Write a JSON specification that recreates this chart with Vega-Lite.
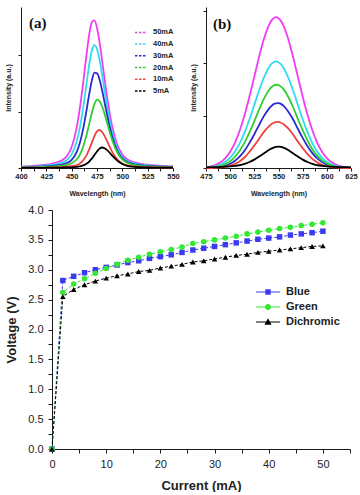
{
  "$schema": "https://vega.github.io/schema/vega-lite/v6.json",
  "background": "white",
  "padding": {"left": 4, "top": 7, "right": 0, "bottom": 0},
  "config": {
    "view": {"stroke": null},
    "axis": {"grid": false, "domainColor": "#1a1a1a", "tickColor": "#1a1a1a", "domainWidth": 1, "tickWidth": 1, "labelColor": "#222222", "titleColor": "#222222", "labelFlush": false, "labelOverlap": false}
  },
  "datasets": {
    "specA": [
      {"wl": 400, "50mA": 0.10, "40mA": 0.08, "30mA": 0.05, "20mA": 0.04, "10mA": 0.02, "5mA": 0.01},
      {"wl": 405, "50mA": 0.12, "40mA": 0.09, "30mA": 0.06, "20mA": 0.04, "10mA": 0.02, "5mA": 0.01},
      {"wl": 410, "50mA": 0.14, "40mA": 0.10, "30mA": 0.07, "20mA": 0.05, "10mA": 0.02, "5mA": 0.01},
      {"wl": 415, "50mA": 0.17, "40mA": 0.12, "30mA": 0.08, "20mA": 0.05, "10mA": 0.02, "5mA": 0.01},
      {"wl": 420, "50mA": 0.20, "40mA": 0.15, "30mA": 0.10, "20mA": 0.07, "10mA": 0.03, "5mA": 0.01},
      {"wl": 425, "50mA": 0.24, "40mA": 0.18, "30mA": 0.12, "20mA": 0.08, "10mA": 0.03, "5mA": 0.02},
      {"wl": 430, "50mA": 0.30, "40mA": 0.22, "30mA": 0.15, "20mA": 0.10, "10mA": 0.04, "5mA": 0.02},
      {"wl": 435, "50mA": 0.39, "40mA": 0.28, "30mA": 0.19, "20mA": 0.12, "10mA": 0.05, "5mA": 0.02},
      {"wl": 440, "50mA": 0.53, "40mA": 0.37, "30mA": 0.24, "20mA": 0.16, "10mA": 0.07, "5mA": 0.03},
      {"wl": 445, "50mA": 0.82, "40mA": 0.55, "30mA": 0.35, "20mA": 0.21, "10mA": 0.09, "5mA": 0.04},
      {"wl": 450, "50mA": 1.49, "40mA": 0.96, "30mA": 0.58, "20mA": 0.33, "10mA": 0.13, "5mA": 0.05},
      {"wl": 455, "50mA": 2.88, "40mA": 1.89, "30mA": 1.14, "20mA": 0.62, "10mA": 0.21, "5mA": 0.08},
      {"wl": 457.5, "50mA": 3.96, "40mA": 2.65, "30mA": 1.64, "20mA": 0.87, "10mA": 0.30, "5mA": 0.11},
      {"wl": 460, "50mA": 5.25, "40mA": 3.65, "30mA": 2.33, "20mA": 1.25, "10mA": 0.43, "5mA": 0.15},
      {"wl": 462.5, "50mA": 6.72, "40mA": 4.85, "30mA": 3.20, "20mA": 1.77, "10mA": 0.65, "5mA": 0.22},
      {"wl": 465, "50mA": 8.23, "40mA": 6.16, "30mA": 4.23, "20mA": 2.43, "10mA": 0.95, "5mA": 0.32},
      {"wl": 467.5, "50mA": 9.53, "40mA": 7.40, "30mA": 5.30, "20mA": 3.18, "10mA": 1.35, "5mA": 0.47},
      {"wl": 470, "50mA": 10.35, "40mA": 8.33, "30mA": 6.22, "20mA": 3.93, "10mA": 1.81, "5mA": 0.68},
      {"wl": 472.5, "50mA": 10.45, "40mA": 8.70, "30mA": 6.75, "20mA": 4.54, "10mA": 2.27, "5mA": 0.92},
      {"wl": 475, "50mA": 9.91, "40mA": 8.42, "30mA": 6.71, "20mA": 4.84, "10mA": 2.60, "5mA": 1.17},
      {"wl": 477.5, "50mA": 8.91, "40mA": 7.67, "30mA": 6.27, "20mA": 4.74, "10mA": 2.69, "5mA": 1.37},
      {"wl": 480, "50mA": 7.63, "40mA": 6.63, "30mA": 5.52, "20mA": 4.37, "10mA": 2.55, "5mA": 1.45},
      {"wl": 482.5, "50mA": 6.28, "40mA": 5.47, "30mA": 4.64, "20mA": 3.82, "10mA": 2.26, "5mA": 1.40},
      {"wl": 485, "50mA": 5.01, "40mA": 4.35, "30mA": 3.74, "20mA": 3.18, "10mA": 1.89, "5mA": 1.27},
      {"wl": 487.5, "50mA": 3.89, "40mA": 3.35, "30mA": 2.92, "20mA": 2.55, "10mA": 1.50, "5mA": 1.08},
      {"wl": 490, "50mA": 2.94, "40mA": 2.51, "30mA": 2.22, "20mA": 1.97, "10mA": 1.14, "5mA": 0.88},
      {"wl": 495, "50mA": 1.64, "40mA": 1.37, "30mA": 1.22, "20mA": 1.10, "10mA": 0.61, "5mA": 0.52},
      {"wl": 500, "50mA": 0.95, "40mA": 0.77, "30mA": 0.68, "20mA": 0.61, "10mA": 0.32, "5mA": 0.28},
      {"wl": 505, "50mA": 0.61, "40mA": 0.50, "30mA": 0.42, "20mA": 0.36, "10mA": 0.18, "5mA": 0.15},
      {"wl": 510, "50mA": 0.44, "40mA": 0.36, "30mA": 0.30, "20mA": 0.24, "10mA": 0.12, "5mA": 0.09},
      {"wl": 515, "50mA": 0.35, "40mA": 0.28, "30mA": 0.23, "20mA": 0.18, "10mA": 0.09, "5mA": 0.06},
      {"wl": 520, "50mA": 0.28, "40mA": 0.23, "30mA": 0.18, "20mA": 0.14, "10mA": 0.07, "5mA": 0.05},
      {"wl": 525, "50mA": 0.23, "40mA": 0.19, "30mA": 0.15, "20mA": 0.12, "10mA": 0.06, "5mA": 0.04},
      {"wl": 530, "50mA": 0.20, "40mA": 0.16, "30mA": 0.13, "20mA": 0.10, "10mA": 0.05, "5mA": 0.03},
      {"wl": 535, "50mA": 0.17, "40mA": 0.13, "30mA": 0.11, "20mA": 0.08, "10mA": 0.04, "5mA": 0.03},
      {"wl": 540, "50mA": 0.15, "40mA": 0.11, "30mA": 0.09, "20mA": 0.07, "10mA": 0.03, "5mA": 0.02},
      {"wl": 545, "50mA": 0.13, "40mA": 0.10, "30mA": 0.08, "20mA": 0.06, "10mA": 0.03, "5mA": 0.02},
      {"wl": 550, "50mA": 0.11, "40mA": 0.09, "30mA": 0.07, "20mA": 0.05, "10mA": 0.03, "5mA": 0.02}
    ],
    "specB": [
      {"wl": 475, "50mA": 0.03, "40mA": 0.02, "30mA": 0.01, "20mA": 0.01, "10mA": 0.00, "5mA": 0.02},
      {"wl": 480, "50mA": 0.06, "40mA": 0.04, "30mA": 0.01, "20mA": 0.02, "10mA": 0.00, "5mA": 0.03},
      {"wl": 485, "50mA": 0.12, "40mA": 0.07, "30mA": 0.02, "20mA": 0.04, "10mA": 0.01, "5mA": 0.03},
      {"wl": 490, "50mA": 0.22, "40mA": 0.13, "30mA": 0.05, "20mA": 0.08, "10mA": 0.02, "5mA": 0.04},
      {"wl": 495, "50mA": 0.38, "40mA": 0.24, "30mA": 0.09, "20mA": 0.15, "10mA": 0.05, "5mA": 0.05},
      {"wl": 500, "50mA": 0.62, "40mA": 0.40, "30mA": 0.16, "20mA": 0.26, "10mA": 0.09, "5mA": 0.06},
      {"wl": 505, "50mA": 0.97, "40mA": 0.63, "30mA": 0.28, "20mA": 0.43, "10mA": 0.16, "5mA": 0.08},
      {"wl": 510, "50mA": 1.44, "40mA": 0.95, "30mA": 0.44, "20mA": 0.67, "10mA": 0.26, "5mA": 0.11},
      {"wl": 515, "50mA": 2.03, "40mA": 1.37, "30mA": 0.67, "20mA": 0.98, "10mA": 0.41, "5mA": 0.16},
      {"wl": 520, "50mA": 2.73, "40mA": 1.86, "30mA": 0.96, "20mA": 1.36, "10mA": 0.62, "5mA": 0.23},
      {"wl": 525, "50mA": 3.49, "40mA": 2.41, "30mA": 1.29, "20mA": 1.79, "10mA": 0.86, "5mA": 0.32},
      {"wl": 530, "50mA": 4.26, "40mA": 2.97, "30mA": 1.65, "20mA": 2.24, "10mA": 1.12, "5mA": 0.44},
      {"wl": 535, "50mA": 4.94, "40mA": 3.46, "30mA": 1.99, "20mA": 2.65, "10mA": 1.38, "5mA": 0.56},
      {"wl": 540, "50mA": 5.45, "40mA": 3.84, "30mA": 2.26, "20mA": 2.97, "10mA": 1.59, "5mA": 0.69},
      {"wl": 542.5, "50mA": 5.62, "40mA": 3.97, "30mA": 2.36, "20mA": 3.08, "10mA": 1.67, "5mA": 0.74},
      {"wl": 545, "50mA": 5.72, "40mA": 4.04, "30mA": 2.44, "20mA": 3.15, "10mA": 1.73, "5mA": 0.78},
      {"wl": 547.5, "50mA": 5.76, "40mA": 4.07, "30mA": 2.47, "20mA": 3.18, "10mA": 1.755, "5mA": 0.81},
      {"wl": 550, "50mA": 5.72, "40mA": 4.04, "30mA": 2.48, "20mA": 3.17, "10mA": 1.76, "5mA": 0.82},
      {"wl": 552.5, "50mA": 5.62, "40mA": 3.97, "30mA": 2.45, "20mA": 3.11, "10mA": 1.73, "5mA": 0.81},
      {"wl": 555, "50mA": 5.45, "40mA": 3.84, "30mA": 2.38, "20mA": 3.02, "10mA": 1.68, "5mA": 0.78},
      {"wl": 560, "50mA": 4.94, "40mA": 3.46, "30mA": 2.16, "20mA": 2.72, "10mA": 1.51, "5mA": 0.69},
      {"wl": 565, "50mA": 4.26, "40mA": 2.97, "30mA": 1.86, "20mA": 2.33, "10mA": 1.28, "5mA": 0.56},
      {"wl": 570, "50mA": 3.49, "40mA": 2.41, "30mA": 1.50, "20mA": 1.88, "10mA": 1.01, "5mA": 0.44},
      {"wl": 575, "50mA": 2.73, "40mA": 1.86, "30mA": 1.15, "20mA": 1.45, "10mA": 0.76, "5mA": 0.32},
      {"wl": 580, "50mA": 2.03, "40mA": 1.37, "30mA": 0.83, "20mA": 1.05, "10mA": 0.53, "5mA": 0.23},
      {"wl": 585, "50mA": 1.44, "40mA": 0.95, "30mA": 0.57, "20mA": 0.72, "10mA": 0.35, "5mA": 0.16},
      {"wl": 590, "50mA": 0.97, "40mA": 0.63, "30mA": 0.37, "20mA": 0.47, "10mA": 0.22, "5mA": 0.11},
      {"wl": 595, "50mA": 0.62, "40mA": 0.40, "30mA": 0.23, "20mA": 0.29, "10mA": 0.12, "5mA": 0.08},
      {"wl": 600, "50mA": 0.38, "40mA": 0.24, "30mA": 0.13, "20mA": 0.17, "10mA": 0.07, "5mA": 0.06},
      {"wl": 605, "50mA": 0.22, "40mA": 0.13, "30mA": 0.07, "20mA": 0.09, "10mA": 0.03, "5mA": 0.05},
      {"wl": 610, "50mA": 0.12, "40mA": 0.07, "30mA": 0.04, "20mA": 0.05, "10mA": 0.02, "5mA": 0.04},
      {"wl": 615, "50mA": 0.06, "40mA": 0.04, "30mA": 0.02, "20mA": 0.02, "10mA": 0.01, "5mA": 0.03},
      {"wl": 620, "50mA": 0.03, "40mA": 0.02, "30mA": 0.01, "20mA": 0.01, "10mA": 0.00, "5mA": 0.03},
      {"wl": 625, "50mA": 0.02, "40mA": 0.01, "30mA": 0.00, "20mA": 0.01, "10mA": 0.00, "5mA": 0.02}
    ],
    "iv": [
      {"current": 0, "Blue": 0, "Green": 0, "Dichromic": 0},
      {"current": 2, "Blue": 2.82, "Green": 2.62, "Dichromic": 2.55},
      {"current": 4, "Blue": 2.89, "Green": 2.76, "Dichromic": 2.67},
      {"current": 6, "Blue": 2.95, "Green": 2.85, "Dichromic": 2.75},
      {"current": 8, "Blue": 3.00, "Green": 2.94, "Dichromic": 2.81},
      {"current": 10, "Blue": 3.04, "Green": 3.02, "Dichromic": 2.86},
      {"current": 12, "Blue": 3.08, "Green": 3.09, "Dichromic": 2.90},
      {"current": 14, "Blue": 3.12, "Green": 3.16, "Dichromic": 2.93},
      {"current": 16, "Blue": 3.15, "Green": 3.21, "Dichromic": 2.97},
      {"current": 18, "Blue": 3.19, "Green": 3.26, "Dichromic": 2.99},
      {"current": 20, "Blue": 3.22, "Green": 3.30, "Dichromic": 3.03},
      {"current": 22, "Blue": 3.25, "Green": 3.34, "Dichromic": 3.06},
      {"current": 24, "Blue": 3.29, "Green": 3.38, "Dichromic": 3.09},
      {"current": 26, "Blue": 3.33, "Green": 3.44, "Dichromic": 3.13},
      {"current": 28, "Blue": 3.36, "Green": 3.47, "Dichromic": 3.15},
      {"current": 30, "Blue": 3.39, "Green": 3.50, "Dichromic": 3.18},
      {"current": 32, "Blue": 3.42, "Green": 3.53, "Dichromic": 3.21},
      {"current": 34, "Blue": 3.45, "Green": 3.56, "Dichromic": 3.24},
      {"current": 36, "Blue": 3.48, "Green": 3.60, "Dichromic": 3.26},
      {"current": 38, "Blue": 3.51, "Green": 3.63, "Dichromic": 3.29},
      {"current": 40, "Blue": 3.53, "Green": 3.66, "Dichromic": 3.31},
      {"current": 42, "Blue": 3.55, "Green": 3.69, "Dichromic": 3.33},
      {"current": 44, "Blue": 3.58, "Green": 3.71, "Dichromic": 3.35},
      {"current": 46, "Blue": 3.60, "Green": 3.74, "Dichromic": 3.37},
      {"current": 48, "Blue": 3.62, "Green": 3.76, "Dichromic": 3.39},
      {"current": 50, "Blue": 3.645, "Green": 3.785, "Dichromic": 3.40}
    ]
  },
  "spacing": 7,
  "bounds": "full",
  "vconcat": [
    {
      "spacing": 33,
      "bounds": "flush",
      "hconcat": [
        {
          "width": 152,
          "height": 161,
          "layer": [
            {
              "data": {"name": "specA"},
              "transform": [{"fold": ["50mA", "40mA", "30mA", "20mA", "10mA", "5mA"], "as": ["drive", "intensity"]}],
              "mark": {"type": "line", "interpolate": "monotone", "strokeWidth": 1.8},
              "encoding": {
                "x": {
                  "field": "wl", "type": "quantitative",
                  "scale": {"domain": [400, 550], "nice": false, "zero": false},
                  "axis": {
                    "title": "Wavelength (nm)",
                    "orient": "bottom",
                    "values": [400, 425, 450, 475, 500, 525, 550],
                    "format": "d",
                    "labelOverlap": false,
                    "tickSize": 3, "labelPadding": 1,
                    "labelFont": "Liberation Sans", "labelFontSize": 7.5, "labelFontWeight": "bold",
                    "titleFont": "Liberation Sans", "titleFontSize": 7, "titleFontWeight": "bold", "titlePadding": 10
                  }
                },
                "y": {
                  "field": "intensity", "type": "quantitative",
                  "scale": {"domain": [0, 11.4], "nice": false},
                  "axis": {
                    "title": "Intensity (a.u.)",
                    "values": [0, 1, 2, 3, 4, 5, 6, 7, 8, 9, 10, 11],
                    "labels": false, "tickSize": 3,
                    "titleFont": "Liberation Sans", "titleFontSize": 7, "titleFontWeight": "bold", "titlePadding": 6
                  }
                },
                "color": {
                  "field": "drive", "type": "nominal",
                  "scale": {"domain": ["50mA", "40mA", "30mA", "20mA", "10mA", "5mA"], "range": ["#f23cf2", "#2fdcef", "#2a2ad2", "#2fcf2f", "#f24040", "#000000"]},
                  "legend": {
                    "title": null, "orient": "none", "legendX": 113, "legendY": 18.4, "padding": 0,
                    "symbolType": "stroke", "symbolSize": 144, "symbolStrokeWidth": 1.5, "symbolDash": [2.5, 1.5],
                    "labelFont": "Liberation Sans", "labelFontSize": 7.5, "labelFontWeight": "bold", "labelColor": "#222222",
                    "labelOffset": 5, "rowPadding": 0.7,
                    "labelExpr": "datum.label == '5mA' ? '\u2007' + datum.label : datum.label"
                  }
                }
              }
            },
            {
              "data": {"values": [{"tag": "(a)"}]},
              "mark": {"type": "text", "font": "Liberation Serif", "fontWeight": "bold", "fontSize": 15, "align": "left", "baseline": "middle", "color": "#111111"},
              "encoding": {
                "x": {"datum": 408, "axis": {"orient": "bottom", "values": [412.5, 437.5, 462.5, 487.5, 512.5, 537.5], "labels": false, "domain": false, "title": null, "tickSize": 3}},
                "y": {"datum": 10.25},
                "text": {"field": "tag"}
              }
            }
          ],
          "resolve": {"axis": {"x": "independent"}}
        },
        {
          "width": 145,
          "height": 161,
          "layer": [
            {
              "data": {"name": "specB"},
              "transform": [{"fold": ["50mA", "40mA", "30mA", "20mA", "10mA", "5mA"], "as": ["drive", "intensity"]}],
              "mark": {"type": "line", "interpolate": "monotone", "strokeWidth": 1.8},
              "encoding": {
                "x": {
                  "field": "wl", "type": "quantitative",
                  "scale": {"domain": [475, 625], "nice": false, "zero": false},
                  "axis": {
                    "title": "Wavelength (nm)",
                    "orient": "bottom",
                    "values": [475, 500, 525, 550, 575, 600, 625],
                    "format": "d",
                    "labelOverlap": false,
                    "tickSize": 3, "labelPadding": 1,
                    "labelFont": "Liberation Sans", "labelFontSize": 7.5, "labelFontWeight": "bold",
                    "titleFont": "Liberation Sans", "titleFontSize": 7, "titleFontWeight": "bold", "titlePadding": 10
                  }
                },
                "y": {
                  "field": "intensity", "type": "quantitative",
                  "scale": {"domain": [0, 6.15], "nice": false},
                  "axis": {
                    "title": "Intensity (a.u.)",
                    "values": [0, 1, 2, 3, 4, 5, 6],
                    "labels": false, "tickSize": 3,
                    "titleFont": "Liberation Sans", "titleFontSize": 7, "titleFontWeight": "bold", "titlePadding": 6
                  }
                },
                "color": {
                  "field": "drive", "type": "nominal",
                  "scale": {"domain": ["50mA", "40mA", "30mA", "20mA", "10mA", "5mA"], "range": ["#f23cf2", "#2fdcef", "#2a2ad2", "#2fcf2f", "#f24040", "#000000"]},
                  "legend": {
                    "title": null, "orient": "none", "legendX": 112, "legendY": 18.6, "padding": 0,
                    "symbolType": "stroke", "symbolSize": 144, "symbolStrokeWidth": 1.5, "symbolDash": [2.5, 1.5],
                    "labelFont": "Liberation Sans", "labelFontSize": 7.5, "labelFontWeight": "bold", "labelColor": "#222222",
                    "labelOffset": 2, "rowPadding": 0.2,
                    "labelExpr": "datum.label == '5mA' ? '\u2007' + datum.label : datum.label"
                  }
                }
              }
            },
            {
              "data": {"values": [{"tag": "(b)"}]},
              "mark": {"type": "text", "font": "Liberation Serif", "fontWeight": "bold", "fontSize": 15, "align": "left", "baseline": "middle", "color": "#111111"},
              "encoding": {
                "x": {"datum": 482.2, "axis": {"orient": "bottom", "values": [487.5, 512.5, 537.5, 562.5, 587.5, 612.5], "labels": false, "domain": false, "title": null, "tickSize": 3}},
                "y": {"datum": 5.5},
                "text": {"field": "tag"}
              }
            }
          ],
          "resolve": {"axis": {"x": "independent"}}
        }
      ]
    },
    {
      "spacing": 30,
      "bounds": "flush",
      "hconcat": [
        {
          "width": 1,
          "height": 1,
          "data": {"values": []},
          "mark": {"type": "point", "opacity": 0},
          "encoding": {}
        },
        {
          "width": 298,
          "height": 239,
          "encoding": {
            "x": {
              "field": "current", "type": "quantitative",
              "scale": {"domain": [0, 55], "nice": false},
              "axis": {
                "title": "Current (mA)",
                "values": [0, 5, 10, 15, 20, 25, 30, 35, 40, 45, 50, 55],
                "labelExpr": "datum.value % 10 == 0 && datum.value <= 50 ? datum.label : ''",
                "labelOverlap": false,
                "tickSize": 4, "labelPadding": 5,
                "labelFont": "Liberation Sans", "labelFontSize": 11,
                "titleFont": "Liberation Sans", "titleFontSize": 13, "titleFontWeight": "bold", "titlePadding": 10
              }
            },
            "y": {
              "field": "voltage", "type": "quantitative",
              "scale": {"domain": [0, 4], "nice": false},
              "axis": {
                "title": "Voltage (V)",
                "values": [0, 0.25, 0.5, 0.75, 1, 1.25, 1.5, 1.75, 2, 2.25, 2.5, 2.75, 3, 3.25, 3.5, 3.75, 4],
                "labelExpr": "datum.value % 0.5 == 0 ? format(datum.value, '.1f') : ''",
                "labelOverlap": false,
                "tickSize": 4, "labelPadding": 5,
                "labelFont": "Liberation Sans", "labelFontSize": 11,
                "titleFont": "Liberation Sans", "titleFontSize": 13, "titleFontWeight": "bold", "titlePadding": 9
              }
            }
          },
          "layer": [
            {
              "data": {"name": "iv"},
              "transform": [{"fold": ["Blue", "Green", "Dichromic"], "as": ["device", "voltage"]}],
              "mark": {"type": "line", "strokeWidth": 1, "strokeDash": [3, 2]},
              "encoding": {
                "color": {
                  "field": "device", "type": "nominal",
                  "scale": {"domain": ["Blue", "Green", "Dichromic"], "range": ["#3a3aee", "#33e833", "#000000"]},
                  "legend": null
                }
              }
            },
            {
              "data": {"name": "iv"},
              "transform": [{"fold": ["Blue", "Green", "Dichromic"], "as": ["device", "voltage"]}],
              "mark": {"type": "point", "filled": true, "opacity": 1},
              "encoding": {
                "color": {
                  "field": "device", "type": "nominal",
                  "scale": {"domain": ["Blue", "Green", "Dichromic"], "range": ["#3a3aee", "#33e833", "#000000"]},
                  "legend": null
                },
                "shape": {
                  "field": "device", "type": "nominal",
                  "scale": {"domain": ["Blue", "Green", "Dichromic"], "range": ["square", "circle", "triangle-up"]},
                  "legend": null
                },
                "size": {
                  "field": "device", "type": "nominal",
                  "scale": {"domain": ["Blue", "Green", "Dichromic"], "range": [30, 32, 46]},
                  "legend": null
                }
              }
            },
            {
              "data": {"name": "iv"},
              "transform": [
                {"fold": ["Blue", "Green", "Dichromic"], "as": ["device", "voltage"]},
                {"filter": "false"}
              ],
              "mark": {"type": "point", "filled": true, "opacity": 1},
              "encoding": {
                "color": {
                  "field": "device", "type": "nominal",
                  "scale": {"domain": ["Blue", "Green", "Dichromic"], "range": ["#3a3aee", "#33e833", "#000000"]},
                  "legend": {
                    "title": null, "orient": "none", "legendX": 210.5, "legendY": 76.5, "padding": 0,
                    "symbolSize": 30, "symbolStrokeWidth": 0,
                    "labelFont": "Liberation Sans", "labelFontSize": 11, "labelFontWeight": "bold", "labelColor": "#222222",
                    "labelOffset": 12.5, "rowPadding": 3
                  }
                },
                "shape": {
                  "field": "device", "type": "nominal",
                  "scale": {
                    "domain": ["Blue", "Green", "Dichromic"],
                    "range": [
                      "M-4.4,-0.18H4.4V0.18H-4.4Z M-1,-1H1V1H-1Z",
                      "M-4.4,-0.18H4.4V0.18H-4.4Z M1.1,0A1.1,1.1,0,1,1,-1.1,0A1.1,1.1,0,1,1,1.1,0Z",
                      "M-4.4,-0.18H4.4V0.18H-4.4Z M0,-1.35L1.3,1L-1.3,1Z"
                    ]
                  },
                  "legend": {
                    "title": null, "orient": "none", "legendX": 210.5, "legendY": 76.5, "padding": 0,
                    "symbolSize": 30, "symbolStrokeWidth": 0,
                    "labelFont": "Liberation Sans", "labelFontSize": 11, "labelFontWeight": "bold", "labelColor": "#222222",
                    "labelOffset": 12.5, "rowPadding": 3
                  }
                }
              }
            },
            {
              "data": {"values": [{"tag": "(c)"}]},
              "mark": {"type": "text", "font": "Liberation Serif", "fontWeight": "bold", "fontSize": 14, "align": "left", "baseline": "middle", "color": "#111111"},
              "encoding": {"x": {"datum": 1.3}, "y": {"datum": 3.74}, "text": {"field": "tag"}}
            }
          ],
          "resolve": {"scale": {"color": "independent", "shape": "independent", "size": "independent"}}
        }
      ]
    }
  ]
}
